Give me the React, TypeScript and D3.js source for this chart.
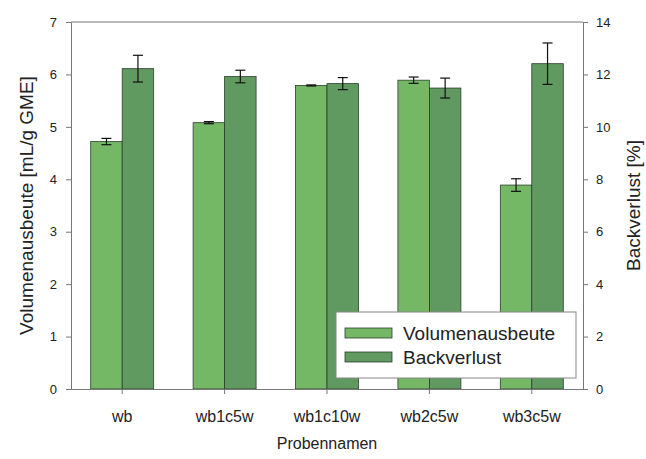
import React, { useEffect, useRef } from 'react';
import * as d3 from 'd3';

const categories = ['wb', 'wb1c5w', 'wb1c10w', 'wb2c5w', 'wb3c5w'];
const volumen = [4.72, 5.08, 5.79, 5.89, 3.89];
const volumenErr = [0.06, 0.02, 0.01, 0.06, 0.12];
const backverlust = [12.22, 11.92, 11.65, 11.48, 12.41];
const backverlustErr = [0.51, 0.24, 0.23, 0.38, 0.79];
const leftTicks = [0, 1, 2, 3, 4, 5, 6, 7];
const rightTicks = [0, 2, 4, 6, 8, 10, 12, 14];

const W = 646;
const H = 459;
const margin = { top: 22, right: 63, bottom: 70, left: 71 };
const lightGreen = '#74b866';
const darkGreen = '#609a60';
const font = '"Liberation Sans", Arial, sans-serif';

const App = () => {
  const svgRef = useRef<SVGSVGElement>(null);

  useEffect(() => {
    const root = d3.select(svgRef.current);
    root.selectAll('*').remove();

    const innerW = W - margin.left - margin.right;
    const innerH = H - margin.top - margin.bottom;
    const g = root.append('g').attr('transform', `translate(${margin.left},${margin.top})`);

    const x = d3.scaleBand().domain(categories).range([0, innerW]).paddingInner(0.385).paddingOuter(0.1925);
    const sub = d3.scaleBand().domain(['v', 'b']).range([0, x.bandwidth()]);
    const yL = d3.scaleLinear().domain([0, 7]).range([innerH, 0]);
    const yR = d3.scaleLinear().domain([0, 14]).range([innerH, 0]);

    // frame top line
    g.append('line').attr('x1', 0).attr('x2', innerW).attr('y1', 0).attr('y2', 0)
      .attr('stroke', '#777').attr('stroke-width', 1);

    // bars
    const series = [
      { key: 'v', vals: volumen, errs: volumenErr, y: yL, color: lightGreen },
      { key: 'b', vals: backverlust, errs: backverlustErr, y: yR, color: darkGreen },
    ];
    series.forEach(s => {
      const grp = g.append('g');
      grp.selectAll('rect')
        .data(categories)
        .enter()
        .append('rect')
        .attr('x', d => (x(d) || 0) + (sub(s.key) || 0))
        .attr('y', (d, i) => s.y(s.vals[i]))
        .attr('width', sub.bandwidth())
        .attr('height', (d, i) => innerH - s.y(s.vals[i]))
        .attr('fill', s.color)
        .attr('stroke', '#2d3d2d')
        .attr('stroke-width', 0.8);
    });

    // error bars
    series.forEach(s => {
      categories.forEach((c, i) => {
        const cx = (x(c) || 0) + (sub(s.key) || 0) + sub.bandwidth() / 2;
        const hi = s.y(s.vals[i] + s.errs[i]);
        const lo = s.y(s.vals[i] - s.errs[i]);
        const eg = g.append('g').attr('stroke', '#111').attr('stroke-width', 1.2);
        eg.append('line').attr('x1', cx).attr('x2', cx).attr('y1', hi).attr('y2', lo);
        eg.append('line').attr('x1', cx - 5).attr('x2', cx + 5).attr('y1', hi).attr('y2', hi);
        eg.append('line').attr('x1', cx - 5).attr('x2', cx + 5).attr('y1', lo).attr('y2', lo);
      });
    });

    const styleAxis = (sel, size) => {
      sel.selectAll('.domain').attr('stroke', '#777');
      sel.selectAll('.tick line').attr('stroke', '#777');
      sel.selectAll('.tick text').attr('fill', '#222').style('font-family', font).style('font-size', `${size}px`);
    };

    // left axis
    g.append('g')
      .call(d3.axisLeft(yL).tickValues(leftTicks).tickFormat(d3.format('d')).tickSize(5).tickPadding(9).tickSizeOuter(0))
      .call(a => styleAxis(a, 13));

    // right axis
    g.append('g')
      .attr('transform', `translate(${innerW},0)`)
      .call(d3.axisRight(yR).tickValues(rightTicks).tickFormat(d3.format('d')).tickSize(5).tickPadding(8).tickSizeOuter(0))
      .call(a => styleAxis(a, 13));

    // bottom axis
    g.append('g')
      .attr('transform', `translate(0,${innerH})`)
      .call(d3.axisBottom(x).tickSize(5).tickPadding(17).tickSizeOuter(0))
      .call(a => a.select('.domain').attr('d', `M0,0.5H${innerW}`))
      .call(a => styleAxis(a, 16));

    // axis titles
    root.append('text')
      .attr('transform', `translate(33,${margin.top + innerH / 2}) rotate(-90)`)
      .attr('text-anchor', 'middle')
      .style('font-family', font).style('font-size', '19px').attr('fill', '#222')
      .text('Volumenausbeute [mL/g GME]');
    root.append('text')
      .attr('transform', `translate(640,${margin.top + innerH / 2}) rotate(-90)`)
      .attr('text-anchor', 'middle')
      .style('font-family', font).style('font-size', '19px').attr('fill', '#222')
      .text('Backverlust [%]');
    root.append('text')
      .attr('x', margin.left + innerW / 2)
      .attr('y', 449)
      .attr('text-anchor', 'middle')
      .style('font-family', font).style('font-size', '16px').attr('fill', '#222')
      .text('Probennamen');

    // legend
    const lg = root.append('g').attr('transform', 'translate(336,312)');
    lg.append('rect').attr('width', 240).attr('height', 66)
      .attr('fill', '#fff').attr('stroke', '#888').attr('stroke-width', 1);
    [
      { label: 'Volumenausbeute', color: lightGreen },
      { label: 'Backverlust', color: darkGreen },
    ].forEach((it, i) => {
      lg.append('rect').attr('x', 9).attr('y', 16 + i * 24).attr('width', 47).attr('height', 10)
        .attr('fill', it.color).attr('stroke', '#2d3d2d').attr('stroke-width', 0.8);
      lg.append('text').attr('x', 67).attr('y', 28 + i * 24)
        .style('font-family', font).style('font-size', '19px').attr('fill', '#222')
        .text(it.label);
    });
  }, []);

  return (
    <svg ref={svgRef} width={W} height={H}
      style={{ position: 'absolute', left: 0, top: 0, background: '#fff' }} />
  );
};

export default App;
